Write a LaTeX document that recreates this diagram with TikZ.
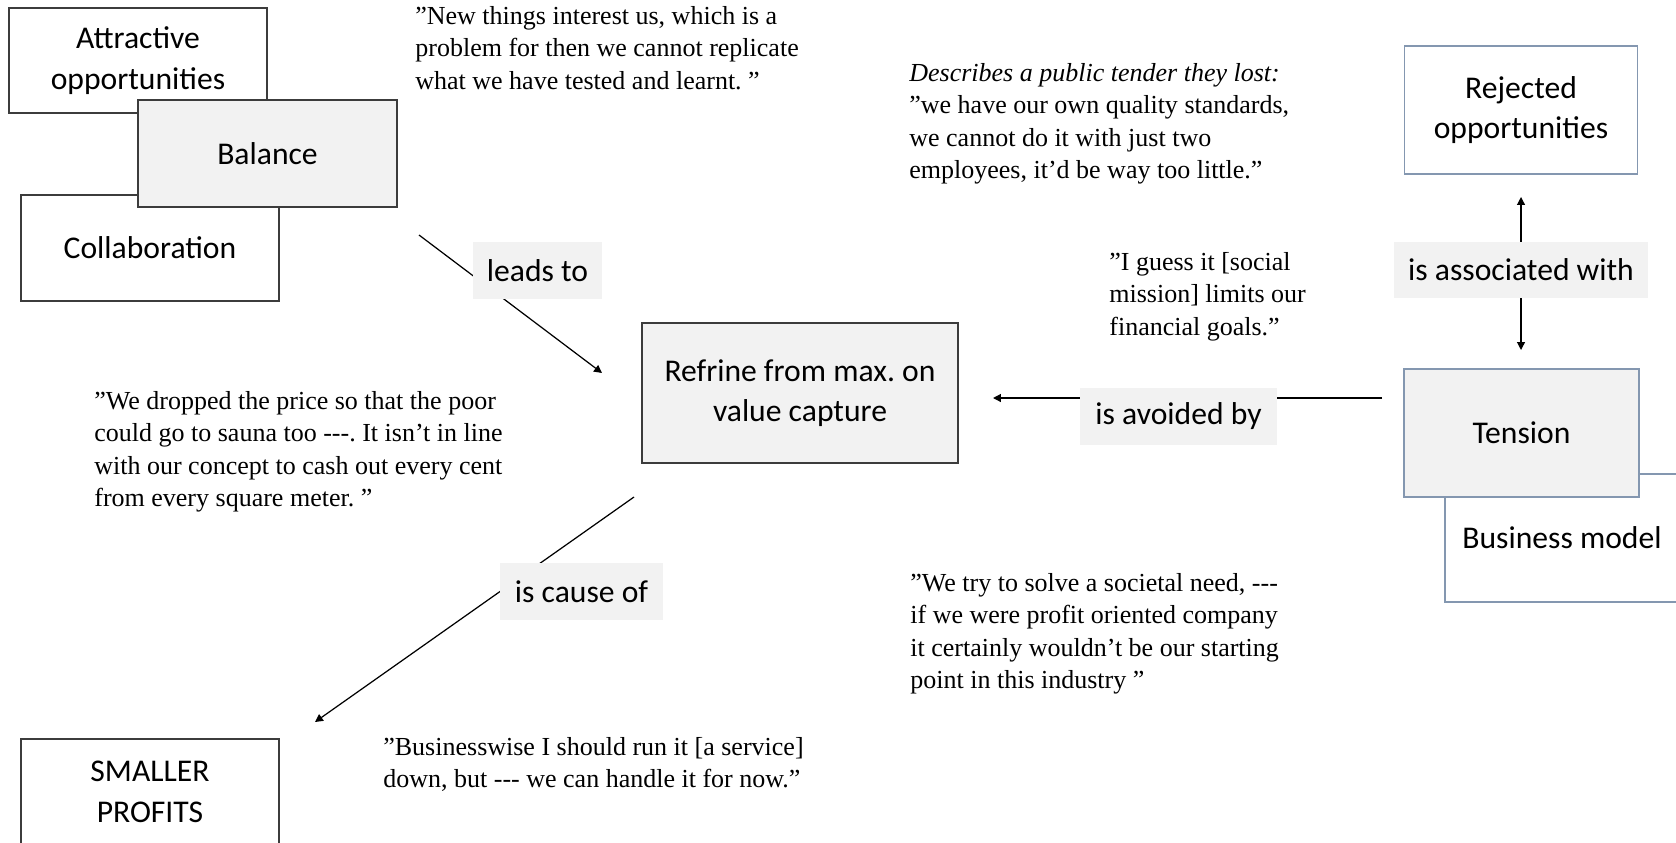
\documentclass[tikz,border=0pt]{standalone}
\usepackage{fontspec}
\setmainfont{Liberation Serif}[Ligatures=TeXOff]
\newfontfamily\boxfont{Carlito}
\usetikzlibrary{arrows.meta}
\frenchspacing
\definecolor{shade}{HTML}{F2F2F2}
\definecolor{rimblue}{HTML}{8497B0}
\definecolor{rimdark}{HTML}{3C3C3C}
\tikzset{
  concept/.style={draw=rimdark, line width=0.8pt, fill=white, align=center, inner sep=0pt,
    font={\boxfont\fontsize{18}{23}\selectfont}},
  core/.style={concept, fill=shade},
  linklabel/.style={fill=shade, inner sep=0pt, font={\boxfont\fontsize{18}{23}\selectfont}},
  saying/.style={anchor=north west, align=left, inner sep=0pt,
    font={\fontsize{14.8}{18.5}\selectfont}},
  link/.style={line width=0.7pt, -{Triangle[length=4.5pt,width=4.5pt]}},
}

\begin{document}
\begin{tikzpicture}[x=0.02cm, y=-0.02cm]
    \clip (0,0) rectangle (1676,842);
    % Levá skupina
    \node[concept, minimum width=5.16cm, minimum height=2.10cm] (attract) at (138,60.5) {Attractive\\opportunities};
    \node[concept, minimum width=5.16cm, minimum height=2.12cm] (collab) at (150,248) {Collaboration};
    \node[core, minimum width=5.18cm, minimum height=2.14cm] (balance) at (267.5,153.5) {Balance};
    % Střed
    \node[core, minimum width=6.32cm, minimum height=2.80cm] (refrain) at (800,393) {Refrine from max.\ on\\value capture};
    \node[concept, minimum width=5.16cm, minimum height=2.12cm] (profits) at (150,792) {SMALLER\\PROFITS};
    % Pravá skupina
    \node[concept, draw=rimblue, minimum width=4.66cm, minimum height=2.56cm] (rejected) at (1521,110) {Rejected\\opportunities};
    \node[concept, draw=rimblue, minimum width=4.68cm, minimum height=2.56cm] (busmodel) at (1562,538) {Business model};
    \node[core, draw=rimblue, minimum width=4.70cm, minimum height=2.56cm] (tension) at (1521.5,433) {Tension};

    % Spojnice
    \coordinate (lead-a) at (419,235);
    \coordinate (lead-b) at (602,373);
    \draw[link] (lead-a) -- (lead-b);
    \coordinate (avoid-a) at (1382,398);
    \coordinate (avoid-b) at (993,398);
    \draw[link] (avoid-a) -- (avoid-b);
    \coordinate (cause-a) at (634,497);
    \coordinate (cause-b) at (315,722);
    \draw[link] (cause-a) -- (cause-b);
    \node[linklabel, minimum width=5.10cm, minimum height=1.12cm] (assoc) at (1521,270) {is associated with};
    \coordinate (assoc-up) at (1521,197);
    \coordinate (assoc-dn) at (1521,350);
    \draw[link] (assoc.north) -- (assoc-up);
    \draw[link] (assoc.south) -- (assoc-dn);
    \node[linklabel, minimum width=2.58cm, minimum height=1.14cm] (leads) at (537.5,270.5) {leads to};
    \node[linklabel, minimum width=3.94cm, minimum height=1.14cm] (avoided) at (1178.5,416.5) {is avoided by};
    \node[linklabel, minimum width=3.26cm, minimum height=1.14cm] (cause) at (581.5,591.5) {is cause of};

    % Citace
    \node[saying] (q-new) at (415,6) {”New things interest us, which is a\\problem for then we cannot replicate\\what we have tested and learnt. ”};
    \node[saying] (q-tender) at (909,63) {\textit{Describes a public tender they lost:}\\”we have our own quality standards,\\we cannot do it with just two\\employees, it’d be way too little.”};
    \node[saying] (q-guess) at (1109,252) {”I guess it [social\\mission] limits our\\financial goals.”};
    \node[saying] (q-need) at (910,573) {”We try to solve a societal need, ---\\if we were profit oriented company\\it certainly wouldn’t be our starting\\point in this industry ”};
    \node[saying] (q-price) at (94,391) {”We dropped the price so that the poor\\could go to sauna too ---. It isn’t in line\\with our concept to cash out every cent\\from every square meter. ”};
    \node[saying] (q-down) at (383,737) {”Businesswise I should run it [a service]\\down, but --- we can handle it for now.”};
\end{tikzpicture}
\end{document}
